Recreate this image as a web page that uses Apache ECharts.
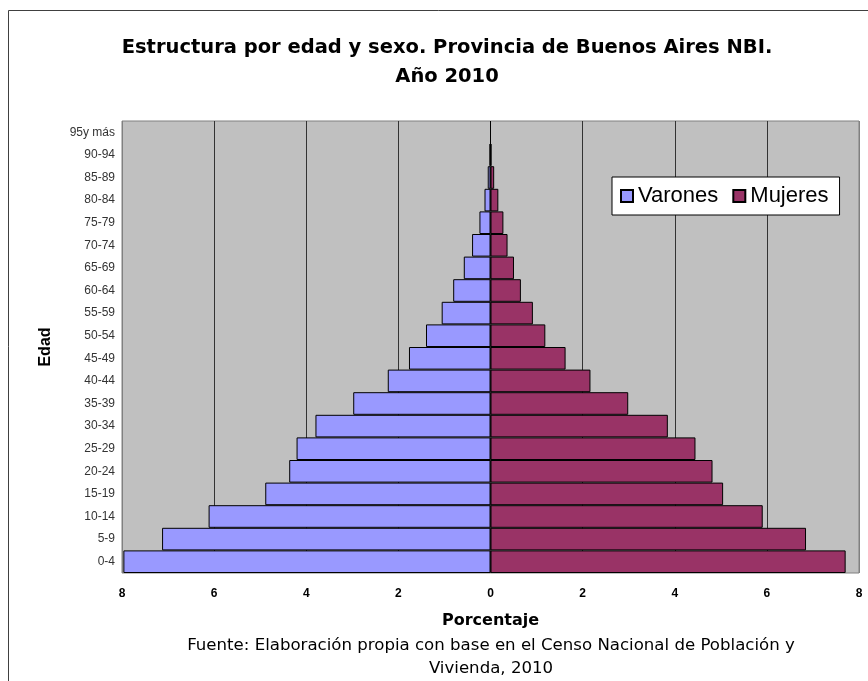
<!DOCTYPE html>
<html>
<head>
<meta charset="utf-8">
<script src="https://cdn.jsdelivr.net/npm/echarts@6/dist/echarts.min.js"></script>
<style>
  html, body { margin: 0; padding: 0; background: #fff; }
  #chart { width: 868px; height: 681px; }
</style>
</head>
<body>
<div id="chart"></div>
<script>
// Age groups, bottom to top
const ageGroups = ['0-4', '5-9', '10-14', '15-19', '20-24', '25-29', '30-34', '35-39', '40-44',
  '45-49', '50-54', '55-59', '60-64', '65-69', '70-74', '75-79', '80-84', '85-89', '90-94', '95y más'];
// Percent of total population by sex
const varones = [7.97, 7.13, 6.12, 4.89, 4.37, 4.21, 3.80, 2.98, 2.23,
  1.77, 1.40, 1.06, 0.81, 0.58, 0.40, 0.24, 0.13, 0.06, 0.02, 0];
const mujeres = [7.71, 6.85, 5.91, 5.05, 4.82, 4.45, 3.85, 2.99, 2.17,
  1.63, 1.19, 0.92, 0.66, 0.51, 0.37, 0.28, 0.17, 0.08, 0.02, 0];
const xTicks = [-8, -6, -4, -2, 0, 2, 4, 6, 8];

const FONT = 'Liberation Sans, Arial, sans-serif';
const WIDE = 'DejaVu Sans, sans-serif';
const chart = echarts.init(document.getElementById('chart'));

chart.setOption({
  animation: false,
  backgroundColor: '#fff',
  title: {
    text: 'Estructura por edad y sexo. Provincia de Buenos Aires NBI.\nAño 2010',
    left: 442,
    top: 28,
    textAlign: 'center',
    textStyle: { fontFamily: WIDE, fontSize: 19.5, fontWeight: 'bold', color: '#000', lineHeight: 29 }
  },
  legend: {
    data: ['Varones', 'Mujeres'],
    left: 612,
    top: 177,
    padding: [8, 11, 8, 8],
    itemGap: 14,
    itemWidth: 12,
    itemHeight: 12,
    backgroundColor: '#fff',
    borderColor: '#000',
    borderWidth: 1,
    icon: 'rect',
    textStyle: { fontFamily: FONT, fontSize: 22, color: '#000' }
  },
  grid: {
    left: 122, top: 121, width: 737, height: 452,
    show: true, backgroundColor: '#c0c0c0', borderColor: '#808080', borderWidth: 1
  },
  xAxis: {
    type: 'value',
    min: -8, max: 8, interval: 2,
    name: 'Porcentaje',
    nameLocation: 'middle',
    nameGap: 40,
    nameTextStyle: { fontFamily: WIDE, fontSize: 16, fontWeight: 'bold', color: '#000' },
    axisLine: { show: false },
    axisTick: { show: false },
    axisLabel: {
      fontFamily: FONT, fontSize: 12, fontWeight: 'bold', color: '#000', margin: 15,
      formatter: v => String(Math.abs(v))
    },
    splitLine: {
      show: true,
      lineStyle: { color: xTicks.map(t => (Math.abs(t) === 8 ? '#808080' : '#333')), width: 1 }
    }
  },
  yAxis: {
    type: 'category',
    data: ageGroups,
    name: 'Edad',
    nameLocation: 'middle',
    nameGap: 68,
    nameRotate: 90,
    nameTextStyle: { fontFamily: FONT, fontSize: 16, fontWeight: 'bold', color: '#000' },
    axisLine: { show: false },
    axisTick: { show: false },
    axisLabel: { fontFamily: FONT, fontSize: 12, color: '#333', margin: 7 },
    splitLine: { show: false }
  },
  series: [
    {
      name: 'Varones',
      type: 'bar',
      data: varones.map(v => -v),
      barGap: '-100%',
      barCategoryGap: 0,
      itemStyle: { color: '#9999ff', borderColor: '#000', borderWidth: 1 }
    },
    {
      name: 'Mujeres',
      type: 'bar',
      data: mujeres,
      barGap: '-100%',
      barCategoryGap: 0,
      itemStyle: { color: '#993366', borderColor: '#000', borderWidth: 1 }
    }
  ],
  graphic: [
    {
      type: 'text',
      x: 491,
      y: 634,
      style: {
        text: 'Fuente: Elaboración propia con base en el Censo Nacional de Población y\nVivienda, 2010',
        font: '16.6px ' + WIDE,
        fill: '#000',
        align: 'center',
        lineHeight: 23
      }
    },
    {
      type: 'rect',
      silent: true,
      shape: { x: 8.5, y: 10.5, width: 900, height: 700 },
      style: { fill: 'none', stroke: '#404040', lineWidth: 1 }
    }
  ]
});
</script>
</body>
</html>
